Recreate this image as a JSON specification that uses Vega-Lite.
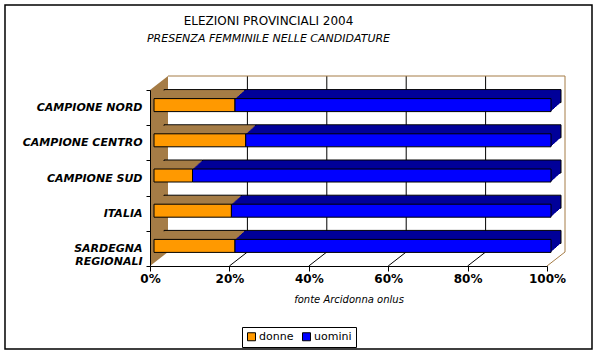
{
  "$schema": "https://vega.github.io/schema/vega-lite/v6.json",
  "width": 397,
  "height": 176,
  "autosize": {"type": "none"},
  "padding": {"left": 150, "top": 90, "right": 53, "bottom": 91},
  "background": "white",
  "config": {"view": {"stroke": null}, "font": "DejaVu Sans"},
  "title": {
    "text": "ELEZIONI PROVINCIALI  2004",
    "subtitle": "PRESENZA FEMMINILE NELLE CANDIDATURE",
    "frame": "group",
    "anchor": "middle",
    "dx": -80,
    "offset": -41,
    "font": "DejaVu Sans",
    "fontSize": 12,
    "fontWeight": "normal",
    "color": "black",
    "subtitleFont": "DejaVu Sans",
    "subtitleFontSize": 11,
    "subtitleFontStyle": "italic",
    "subtitleColor": "black",
    "subtitlePadding": 5
  },
  "datasets": {
    "voti": [
      {"regione": "CAMPIONE NORD", "genere": "donne", "quota": 20.4},
      {"regione": "CAMPIONE NORD", "genere": "uomini", "quota": 79.6},
      {"regione": "CAMPIONE CENTRO", "genere": "donne", "quota": 23.1},
      {"regione": "CAMPIONE CENTRO", "genere": "uomini", "quota": 76.9},
      {"regione": "CAMPIONE SUD", "genere": "donne", "quota": 9.7},
      {"regione": "CAMPIONE SUD", "genere": "uomini", "quota": 90.3},
      {"regione": "ITALIA", "genere": "donne", "quota": 19.5},
      {"regione": "ITALIA", "genere": "uomini", "quota": 80.5},
      {"regione": "SARDEGNA REGIONALI", "genere": "donne", "quota": 20.4},
      {"regione": "SARDEGNA REGIONALI", "genere": "uomini", "quota": 79.6}
    ],
    "griglia": [{"p": 0.2}, {"p": 0.4}, {"p": 0.6}, {"p": 0.8}],
    "uno": [{"k": 1}]
  },
  "layer": [
    {
      "data": {"name": "uno"},
      "mark": {"type": "rect", "fill": "white", "stroke": "black", "strokeWidth": 1.5, "yOffset": -85, "y2Offset": 83, "opacity": 1},
      "encoding": {
        "x": {"datum": -0.36524, "type": "quantitative", "scale": {"domain": [0, 1], "nice": false, "zero": true}},
        "x2": {"datum": 1.11335},
        "y": {"value": 0},
        "y2": {"value": "height"}
      }
    },
    {
      "data": {"name": "griglia"},
      "mark": {"type": "rule", "color": "black", "strokeWidth": 1, "xOffset": 18, "yOffset": -14, "y2Offset": -14, "opacity": 1},
      "encoding": {
        "x": {"field": "p", "type": "quantitative"},
        "y": {"value": 0},
        "y2": {"value": "height"}
      }
    },
    {
      "data": {"name": "uno"},
      "mark": {"type": "rule", "color": "#A57C46", "strokeWidth": 1, "xOffset": 18, "x2Offset": 18, "yOffset": -14, "opacity": 1},
      "encoding": {
        "x": {"datum": 0, "type": "quantitative"},
        "x2": {"datum": 1},
        "y": {"value": 0}
      }
    },
    {
      "data": {"name": "uno"},
      "mark": {"type": "rule", "color": "#A57C46", "strokeWidth": 1, "xOffset": 18, "yOffset": -14, "y2Offset": -14, "opacity": 1},
      "encoding": {
        "x": {"datum": 1, "type": "quantitative"},
        "y": {"value": 0},
        "y2": {"value": "height"}
      }
    },
    {
      "data": {"name": "griglia"},
      "mark": {"type": "point", "shape": "M0,0.88L0.18,0.74", "size": 40000, "filled": false, "stroke": "black", "strokeWidth": 1, "opacity": 1},
      "encoding": {
        "x": {"field": "p", "type": "quantitative"}
      }
    },
    {
      "data": {"name": "uno"},
      "mark": {"type": "point", "shape": "M0,0.88L0.18,0.74", "size": 40000, "filled": false, "stroke": "#A57C46", "strokeWidth": 1, "opacity": 1},
      "encoding": {
        "x": {"datum": 1, "type": "quantitative"}
      }
    },
    {
      "data": {"name": "uno"},
      "mark": {"type": "point", "shape": "M0,-0.88L0.18,-1.02L0.18,0.74L0,0.88Z", "size": 40000, "filled": true, "fill": "#A57C46", "strokeWidth": 0, "opacity": 1},
      "encoding": {
        "x": {"datum": 0, "type": "quantitative"}
      }
    },
    {
      "data": {"name": "voti"},
      "mark": {"type": "bar", "height": 13, "xOffset": 14, "yOffset": -11.5, "stroke": "black", "strokeWidth": 1, "opacity": 1},
      "encoding": {
        "y": {"field": "regione", "type": "nominal", "sort": ["CAMPIONE NORD", "CAMPIONE CENTRO", "CAMPIONE SUD", "ITALIA", "SARDEGNA REGIONALI"]},
        "x": {"field": "quota", "type": "quantitative", "stack": "normalize"},
        "order": {"field": "genere", "sort": "ascending"},
        "fill": {"condition": {"test": "datum.genere === 'donne'", "value": "#A57C46"}, "value": "#000099"}
      }
    },
    {
      "data": {"name": "voti"},
      "mark": {"type": "bar", "height": 13, "xOffset": 13, "yOffset": -10.6, "strokeWidth": 0, "opacity": 1},
      "encoding": {
        "y": {"field": "regione", "type": "nominal", "sort": ["CAMPIONE NORD", "CAMPIONE CENTRO", "CAMPIONE SUD", "ITALIA", "SARDEGNA REGIONALI"]},
        "x": {"field": "quota", "type": "quantitative", "stack": "normalize"},
        "order": {"field": "genere", "sort": "ascending"},
        "fill": {"condition": {"test": "datum.genere === 'donne'", "value": "#A57C46"}, "value": "#000099"}
      }
    },
    {
      "data": {"name": "voti"},
      "mark": {"type": "bar", "height": 13, "xOffset": 12, "yOffset": -9.7, "strokeWidth": 0, "opacity": 1},
      "encoding": {
        "y": {"field": "regione", "type": "nominal", "sort": ["CAMPIONE NORD", "CAMPIONE CENTRO", "CAMPIONE SUD", "ITALIA", "SARDEGNA REGIONALI"]},
        "x": {"field": "quota", "type": "quantitative", "stack": "normalize"},
        "order": {"field": "genere", "sort": "ascending"},
        "fill": {"condition": {"test": "datum.genere === 'donne'", "value": "#A57C46"}, "value": "#000099"}
      }
    },
    {
      "data": {"name": "voti"},
      "mark": {"type": "bar", "height": 13, "xOffset": 11, "yOffset": -8.8, "strokeWidth": 0, "opacity": 1},
      "encoding": {
        "y": {"field": "regione", "type": "nominal", "sort": ["CAMPIONE NORD", "CAMPIONE CENTRO", "CAMPIONE SUD", "ITALIA", "SARDEGNA REGIONALI"]},
        "x": {"field": "quota", "type": "quantitative", "stack": "normalize"},
        "order": {"field": "genere", "sort": "ascending"},
        "fill": {"condition": {"test": "datum.genere === 'donne'", "value": "#A57C46"}, "value": "#000099"}
      }
    },
    {
      "data": {"name": "voti"},
      "mark": {"type": "bar", "height": 13, "xOffset": 10, "yOffset": -7.9, "strokeWidth": 0, "opacity": 1},
      "encoding": {
        "y": {"field": "regione", "type": "nominal", "sort": ["CAMPIONE NORD", "CAMPIONE CENTRO", "CAMPIONE SUD", "ITALIA", "SARDEGNA REGIONALI"]},
        "x": {"field": "quota", "type": "quantitative", "stack": "normalize"},
        "order": {"field": "genere", "sort": "ascending"},
        "fill": {"condition": {"test": "datum.genere === 'donne'", "value": "#A57C46"}, "value": "#000099"}
      }
    },
    {
      "data": {"name": "voti"},
      "mark": {"type": "bar", "height": 13, "xOffset": 9, "yOffset": -7.0, "strokeWidth": 0, "opacity": 1},
      "encoding": {
        "y": {"field": "regione", "type": "nominal", "sort": ["CAMPIONE NORD", "CAMPIONE CENTRO", "CAMPIONE SUD", "ITALIA", "SARDEGNA REGIONALI"]},
        "x": {"field": "quota", "type": "quantitative", "stack": "normalize"},
        "order": {"field": "genere", "sort": "ascending"},
        "fill": {"condition": {"test": "datum.genere === 'donne'", "value": "#A57C46"}, "value": "#000099"}
      }
    },
    {
      "data": {"name": "voti"},
      "mark": {"type": "bar", "height": 13, "xOffset": 8, "yOffset": -6.1, "strokeWidth": 0, "opacity": 1},
      "encoding": {
        "y": {"field": "regione", "type": "nominal", "sort": ["CAMPIONE NORD", "CAMPIONE CENTRO", "CAMPIONE SUD", "ITALIA", "SARDEGNA REGIONALI"]},
        "x": {"field": "quota", "type": "quantitative", "stack": "normalize"},
        "order": {"field": "genere", "sort": "ascending"},
        "fill": {"condition": {"test": "datum.genere === 'donne'", "value": "#A57C46"}, "value": "#000099"}
      }
    },
    {
      "data": {"name": "voti"},
      "mark": {"type": "bar", "height": 13, "xOffset": 7, "yOffset": -5.2, "strokeWidth": 0, "opacity": 1},
      "encoding": {
        "y": {"field": "regione", "type": "nominal", "sort": ["CAMPIONE NORD", "CAMPIONE CENTRO", "CAMPIONE SUD", "ITALIA", "SARDEGNA REGIONALI"]},
        "x": {"field": "quota", "type": "quantitative", "stack": "normalize"},
        "order": {"field": "genere", "sort": "ascending"},
        "fill": {"condition": {"test": "datum.genere === 'donne'", "value": "#A57C46"}, "value": "#000099"}
      }
    },
    {
      "data": {"name": "voti"},
      "mark": {"type": "bar", "height": 13, "xOffset": 6, "yOffset": -4.3, "strokeWidth": 0, "opacity": 1},
      "encoding": {
        "y": {"field": "regione", "type": "nominal", "sort": ["CAMPIONE NORD", "CAMPIONE CENTRO", "CAMPIONE SUD", "ITALIA", "SARDEGNA REGIONALI"]},
        "x": {"field": "quota", "type": "quantitative", "stack": "normalize"},
        "order": {"field": "genere", "sort": "ascending"},
        "fill": {"condition": {"test": "datum.genere === 'donne'", "value": "#A57C46"}, "value": "#000099"}
      }
    },
    {
      "data": {"name": "voti"},
      "mark": {"type": "bar", "height": 13, "xOffset": 5, "yOffset": -3.4, "strokeWidth": 0, "opacity": 1},
      "encoding": {
        "y": {"field": "regione", "type": "nominal", "sort": ["CAMPIONE NORD", "CAMPIONE CENTRO", "CAMPIONE SUD", "ITALIA", "SARDEGNA REGIONALI"]},
        "x": {"field": "quota", "type": "quantitative", "stack": "normalize"},
        "order": {"field": "genere", "sort": "ascending"},
        "fill": {"condition": {"test": "datum.genere === 'donne'", "value": "#A57C46"}, "value": "#000099"}
      }
    },
    {
      "data": {"name": "voti"},
      "mark": {"type": "bar", "height": 13, "xOffset": 4, "yOffset": -2.5, "stroke": "black", "strokeWidth": 1, "opacity": 1},
      "encoding": {
        "y": {
          "field": "regione", "type": "nominal",
          "sort": ["CAMPIONE NORD", "CAMPIONE CENTRO", "CAMPIONE SUD", "ITALIA", "SARDEGNA REGIONALI"],
          "scale": {"paddingInner": 0, "paddingOuter": 0},
          "axis": {
            "title": null, "tickBand": "extent", "zindex": 1,
            "labelFont": "DejaVu Sans", "labelFontWeight": "bold", "labelFontStyle": "italic", "labelFontSize": 11,
            "labelColor": "black", "tickColor": "black", "domainColor": "black", "tickSize": 4, "labelPadding": 4,
            "labelLineHeight": 13,
            "labelExpr": "datum.label == 'SARDEGNA REGIONALI' ? ['SARDEGNA', 'REGIONALI'] : datum.label"
          }
        },
        "x": {
          "field": "quota", "type": "quantitative", "stack": "normalize",
          "axis": {
            "values": [0, 0.2, 0.4, 0.6, 0.8, 1], "format": ".0%", "grid": false, "zindex": 1,
            "labelFont": "DejaVu Sans", "labelFontWeight": "bold", "labelFontSize": 12, "labelColor": "black",
            "labelFlush": false, "labelOverlap": false,
            "tickColor": "black", "domainColor": "black", "tickSize": 5, "labelPadding": 2,
            "title": "fonte Arcidonna onlus", "titleFont": "DejaVu Sans", "titleFontStyle": "italic",
            "titleFontWeight": "normal", "titleFontSize": 10, "titleColor": "black", "titlePadding": 10
          }
        },
        "order": {"field": "genere", "sort": "ascending"},
        "color": {
          "field": "genere", "type": "nominal",
          "scale": {"domain": ["donne", "uomini"], "range": ["#FF9900", "#0000FF"]},
          "legend": {
            "title": null, "orient": "none", "legendX": 92, "legendY": 237, "direction": "horizontal",
            "symbolType": "square", "symbolSize": 64, "symbolStrokeColor": "black", "symbolStrokeWidth": 1,
            "labelFont": "DejaVu Sans", "labelFontSize": 11, "labelColor": "black", "labelOffset": 2,
            "columnPadding": 6, "padding": 4, "strokeColor": "black", "fillColor": "white"
          }
        }
      }
    }
  ]
}
